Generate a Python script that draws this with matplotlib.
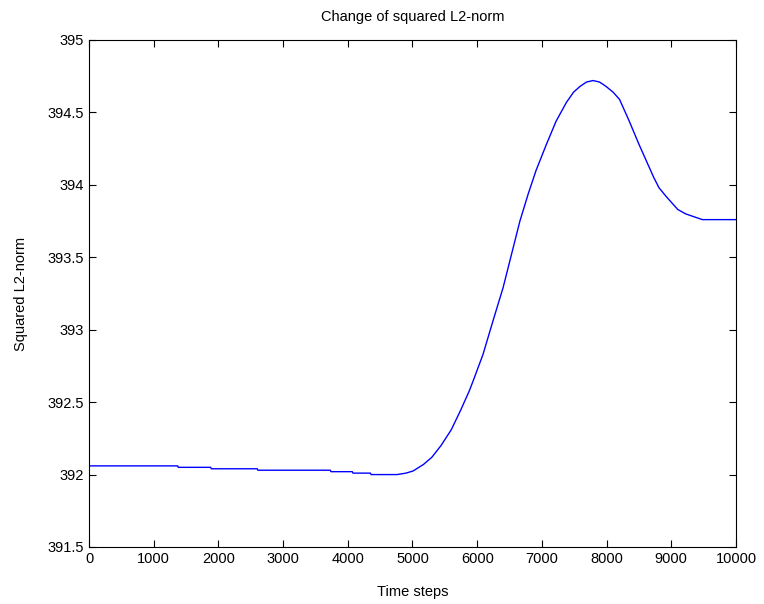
import matplotlib
matplotlib.use('Agg')
import matplotlib.pyplot as plt

# ----- Data -----
timeSteps = [0, 1370, 1380, 1880, 1890, 2600, 2610, 3730, 3740, 4070, 4080, 4350, 4360,
             4760, 4900, 5010, 5170, 5300, 5440, 5600, 5750, 5880, 5940, 6090, 6250, 6400,
             6530, 6660, 6790, 6910, 7070, 7220, 7380, 7490, 7590, 7690, 7790, 7890, 7990,
             8100, 8200, 8350, 8500, 8580, 8660, 8730, 8810, 8920, 9020, 9100, 9220, 9350,
             9480, 10000]
squaredNorm = [392.06, 392.06, 392.05, 392.05, 392.04, 392.04, 392.03, 392.03, 392.02, 392.02,
               392.01, 392.01, 392.0, 392.0, 392.01, 392.025, 392.07, 392.12, 392.20, 392.31,
               392.45, 392.58, 392.65, 392.83, 393.07, 393.29, 393.52, 393.75, 393.94, 394.10,
               394.28, 394.44, 394.57, 394.64, 394.68, 394.71, 394.72, 394.71, 394.68, 394.64,
               394.59, 394.44, 394.28, 394.20, 394.12, 394.05, 393.98, 393.92, 393.87, 393.83,
               393.80, 393.78, 393.76, 393.76]

xTicks = list(range(0, 10001, 1000))
yTicks = [391.5, 392, 392.5, 393, 393.5, 394, 394.5, 395]
yTickLabels = ['391.5', '392', '392.5', '393', '393.5', '394', '394.5', '395']

plt.rcParams['font.family'] = ['Liberation Sans', 'DejaVu Sans']
plt.rcParams['font.size'] = 10

fig = plt.figure(figsize=(7.64, 6.04), dpi=100)
ax = fig.add_axes([89/764, 1 - 547/604, (736 - 89)/764, (547 - 40)/604])

ax.plot(timeSteps, squaredNorm, color='#0000ff', linewidth=1.0)

ax.set_xlim(0, 10000)
ax.set_ylim(391.5, 395)
ax.set_xticks(xTicks)
ax.set_yticks(yTicks)
ax.set_yticklabels(yTickLabels)
ax.tick_params(direction='in', top=True, right=True, length=5, width=0.8, labelsize=10.5)
for spine in ax.spines.values():
    spine.set_linewidth(0.8)

ax.set_title('Change of squared L2-norm', fontsize=10.5, pad=14)
ax.set_xlabel('Time steps', fontsize=10.5, labelpad=14)
ax.set_ylabel('Squared L2-norm', fontsize=10.5, labelpad=14)

plt.savefig('out.png', dpi=100)
